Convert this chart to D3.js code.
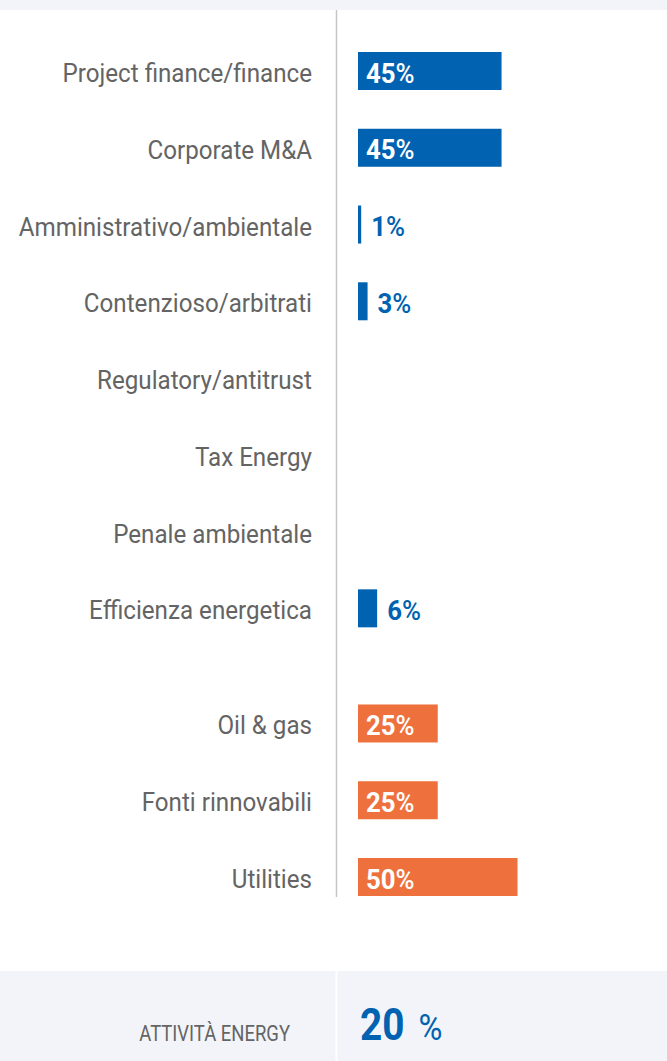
<!DOCTYPE html>
<html>
<head>
<meta charset="utf-8">
<script src="https://cdn.jsdelivr.net/npm/d3@7"></script>
<style>
  html, body { margin: 0; padding: 0; background: #ffffff; }
  svg { display: block; }
  text { font-family: Roboto, "Noto Sans", sans-serif; }
</style>
</head>
<body>
<svg id="chart" width="667" height="1061"></svg>
<script>
// Practice areas (blue) and sectors (orange), share of energy work in %
const practiceAreas = [
  "Project finance/finance",
  "Corporate M&A",
  "Amministrativo/ambientale",
  "Contenzioso/arbitrati",
  "Regulatory/antitrust",
  "Tax Energy",
  "Penale ambientale",
  "Efficienza energetica"
];
const practiceValues = [45, 45, 1, 3, null, null, null, 6];

const sectors = ["Oil & gas", "Fonti rinnovabili", "Utilities"];
const sectorValues = [25, 25, 50];

const totalLabel = "ATTIVITÀ ENERGY";
const totalValue = 20;

const W = 667, H = 1061;
const BLUE = "#0062b0", ORANGE = "#ee713d", GREY_TEXT = "#646464";
const BAND_BG = "#f3f4f9";

const svg = d3.select("#chart");

// rows: practice areas, then a gap, then sectors
const rows = [
  ...practiceAreas.map((name, i) => ({ name, value: practiceValues[i], slot: i, color: BLUE })),
  ...sectors.map((name, i) => ({ name, value: sectorValues[i], slot: practiceAreas.length + 0.5 + i, color: ORANGE }))
];

const barH = 38;
const y = d3.scaleLinear()
  .domain([0, d3.max(rows, d => d.slot)])
  .range([52, 858]);
const x = d3.scaleLinear().domain([0, 50]).range([358, 517.5]);

// background bands
svg.append("rect").attr("x", 0).attr("y", 0).attr("width", W).attr("height", 10).attr("fill", BAND_BG);
svg.append("rect").attr("x", 0).attr("y", 971).attr("width", W).attr("height", H - 971).attr("fill", BAND_BG);
svg.append("line").attr("x1", 336.5).attr("x2", 336.5).attr("y1", 971).attr("y2", H)
  .attr("stroke", "#ffffff").attr("stroke-width", 2);

// vertical separator between labels and bars
svg.append("line")
  .attr("x1", 336.5).attr("x2", 336.5)
  .attr("y1", 10).attr("y2", y(d3.max(rows, d => d.slot)) + barH + 1)
  .attr("stroke", "#c6c6c6").attr("stroke-width", 1.5);

const NARROW = 0.93;

// category labels
const labelG = svg.append("g");
labelG.selectAll("g.lbl").data(rows).join("g")
  .attr("class", "lbl")
  .attr("transform", d => `translate(312,${y(d.slot) + barH / 2 + 11}) scale(${NARROW},1)`)
  .append("text")
  .attr("text-anchor", "end")
  .attr("font-size", 26)
  .attr("fill", GREY_TEXT)
  .text(d => d.name);

// bars
const withValue = rows.filter(d => d.value != null);
svg.append("g").selectAll("rect").data(withValue).join("rect")
  .attr("x", x(0))
  .attr("y", d => y(d.slot))
  .attr("width", d => x(d.value) - x(0))
  .attr("height", barH)
  .attr("fill", d => d.color);

// value labels: inside for wide bars, outside for narrow ones
const inside = d => d.value >= 10;
const vg = svg.append("g").selectAll("g").data(withValue).join("g")
  .attr("transform", d => {
    const tx = inside(d) ? x(0) + 8 : x(d.value) + 10;
    return `translate(${tx},${y(d.slot) + barH / 2 + 11.5}) scale(0.92,1)`;
  });
const vt = vg.append("text")
  .attr("font-size", 28)
  .attr("fill", d => inside(d) ? "#ffffff" : d.color);
vt.append("tspan").attr("font-weight", 700).text(d => d.value);
vt.append("tspan").attr("font-weight", 500).text("%");

// total row
svg.append("g")
  .attr("transform", `translate(290,1041) scale(0.84,1)`)
  .append("text")
  .attr("text-anchor", "end")
  .attr("font-size", 22)
  .attr("fill", GREY_TEXT)
  .text(totalLabel);

const tg = svg.append("g").attr("transform", `translate(360,1040) scale(0.88,1)`);
const tt = tg.append("text").attr("fill", BLUE);
tt.append("tspan").attr("font-size", 44).attr("font-weight", 700).text(totalValue);
tt.append("tspan").attr("font-size", 37).attr("font-weight", 400).attr("dx", 16).text("%");
</script>
</body>
</html>
